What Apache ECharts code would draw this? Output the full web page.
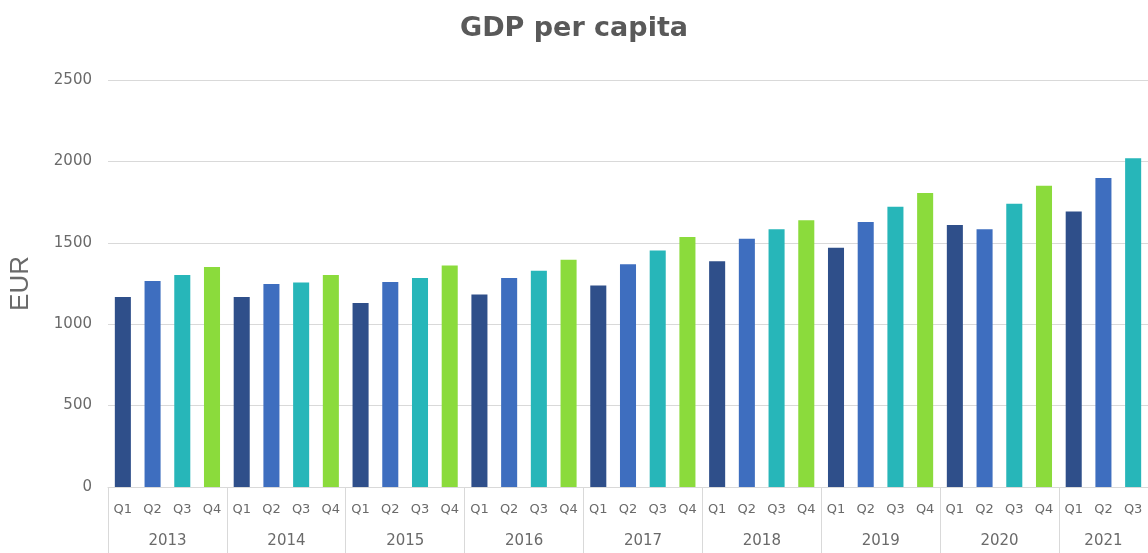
<!DOCTYPE html>
<html>
<head>
<meta charset="utf-8">
<title>GDP per capita</title>
<script src="https://cdn.jsdelivr.net/npm/echarts@6/dist/echarts.min.js"></script>
<style>
  html, body { margin: 0; padding: 0; background: #fff; }
  #chart { width: 1148px; height: 553px; }
</style>
</head>
<body>
<div id="chart"></div>
<script>
// data
const years = ['2013', '2014', '2015', '2016', '2017', '2018', '2019', '2020', '2021'];
const quartersPerYear = [4, 4, 4, 4, 4, 4, 4, 4, 3];
const quarterNames = ['Q1', 'Q2', 'Q3', 'Q4'];
const gdp = [
  1167, 1265, 1302, 1351,
  1167, 1247, 1256, 1302,
  1130, 1259, 1284, 1360,
  1183, 1284, 1329, 1396,
  1237, 1368, 1452, 1536,
  1386, 1525, 1583, 1638,
  1470, 1628, 1722, 1806,
  1609, 1583, 1740, 1851,
  1693, 1898, 2019
];
const quarterColors = { Q1: '#2F4F8A', Q2: '#3E6EBF', Q3: '#27B6B9', Q4: '#8BDB3C' };

// one entry per bar
const quarterLabels = [];
const yearLabels = [];
const midIndex = {}; // index where the year label goes
years.forEach((y, i) => {
  const n = quartersPerYear[i];
  midIndex[y] = quarterLabels.length + Math.floor((n - 1) / 2);
  for (let q = 0; q < n; q++) {
    quarterLabels.push(quarterNames[q]);
    yearLabels.push(y);
  }
});

const textColor = '#6a6a6a';
const lineColor = '#D9D9D9';
const font = 'DejaVu Sans';

const chart = echarts.init(document.getElementById('chart'));

chart.setOption({
  animation: false,
  title: {
    text: 'GDP per capita',
    left: 'center',
    top: 10,
    textStyle: { fontFamily: 'DejaVu Sans', fontSize: 27, fontWeight: 'bold', color: '#595959' }
  },
  grid: { left: 107, top: 80, width: 1046, bottom: 66, containLabel: false },
  xAxis: [
    {
      type: 'category',
      data: quarterLabels,
      axisLine: { lineStyle: { color: lineColor } },
      axisTick: { show: false },
      axisLabel: { interval: 0, margin: 16, color: textColor, fontFamily: font, fontSize: 13 }
    },
    {
      type: 'category',
      data: yearLabels,
      position: 'bottom',
      axisLine: { show: false },
      axisTick: {
        show: true,
        length: 68,
        interval: (index) => index % 4 === 0,
        lineStyle: { color: lineColor }
      },
      axisLabel: {
        margin: 47,
        color: textColor,
        fontFamily: font,
        fontSize: 15,
        interval: (index, value) => midIndex[value] === index,
        formatter: (value) => {
          const n = quartersPerYear[years.indexOf(value)];
          return n % 2 === 0 ? '{even|' + value + '}' : '{odd|' + value + '}';
        },
        rich: {
          even: { padding: [0, 0, 0, 30], color: textColor, fontFamily: font, fontSize: 15 },
          odd: { color: textColor, fontFamily: font, fontSize: 15 }
        }
      }
    }
  ],
  yAxis: {
    type: 'value',
    min: 0,
    max: 2500,
    interval: 500,
    name: 'EUR',
    nameLocation: 'middle',
    nameGap: 74,
    nameTextStyle: { fontFamily: 'Liberation Sans', fontSize: 26, color: textColor },
    axisLine: { show: false },
    axisTick: { show: false },
    axisLabel: {
      margin: 16,
      color: textColor,
      fontFamily: font,
      fontSize: 15,
      formatter: (v) => String(v)
    },
    splitLine: { lineStyle: { color: lineColor } }
  },
  series: [
    {
      name: 'GDP per capita',
      type: 'bar',
      barWidth: '54%',
      data: gdp,
      itemStyle: {
        color: (p) => quarterColors[quarterLabels[p.dataIndex]]
      }
    }
  ]
});
</script>
</body>
</html>
